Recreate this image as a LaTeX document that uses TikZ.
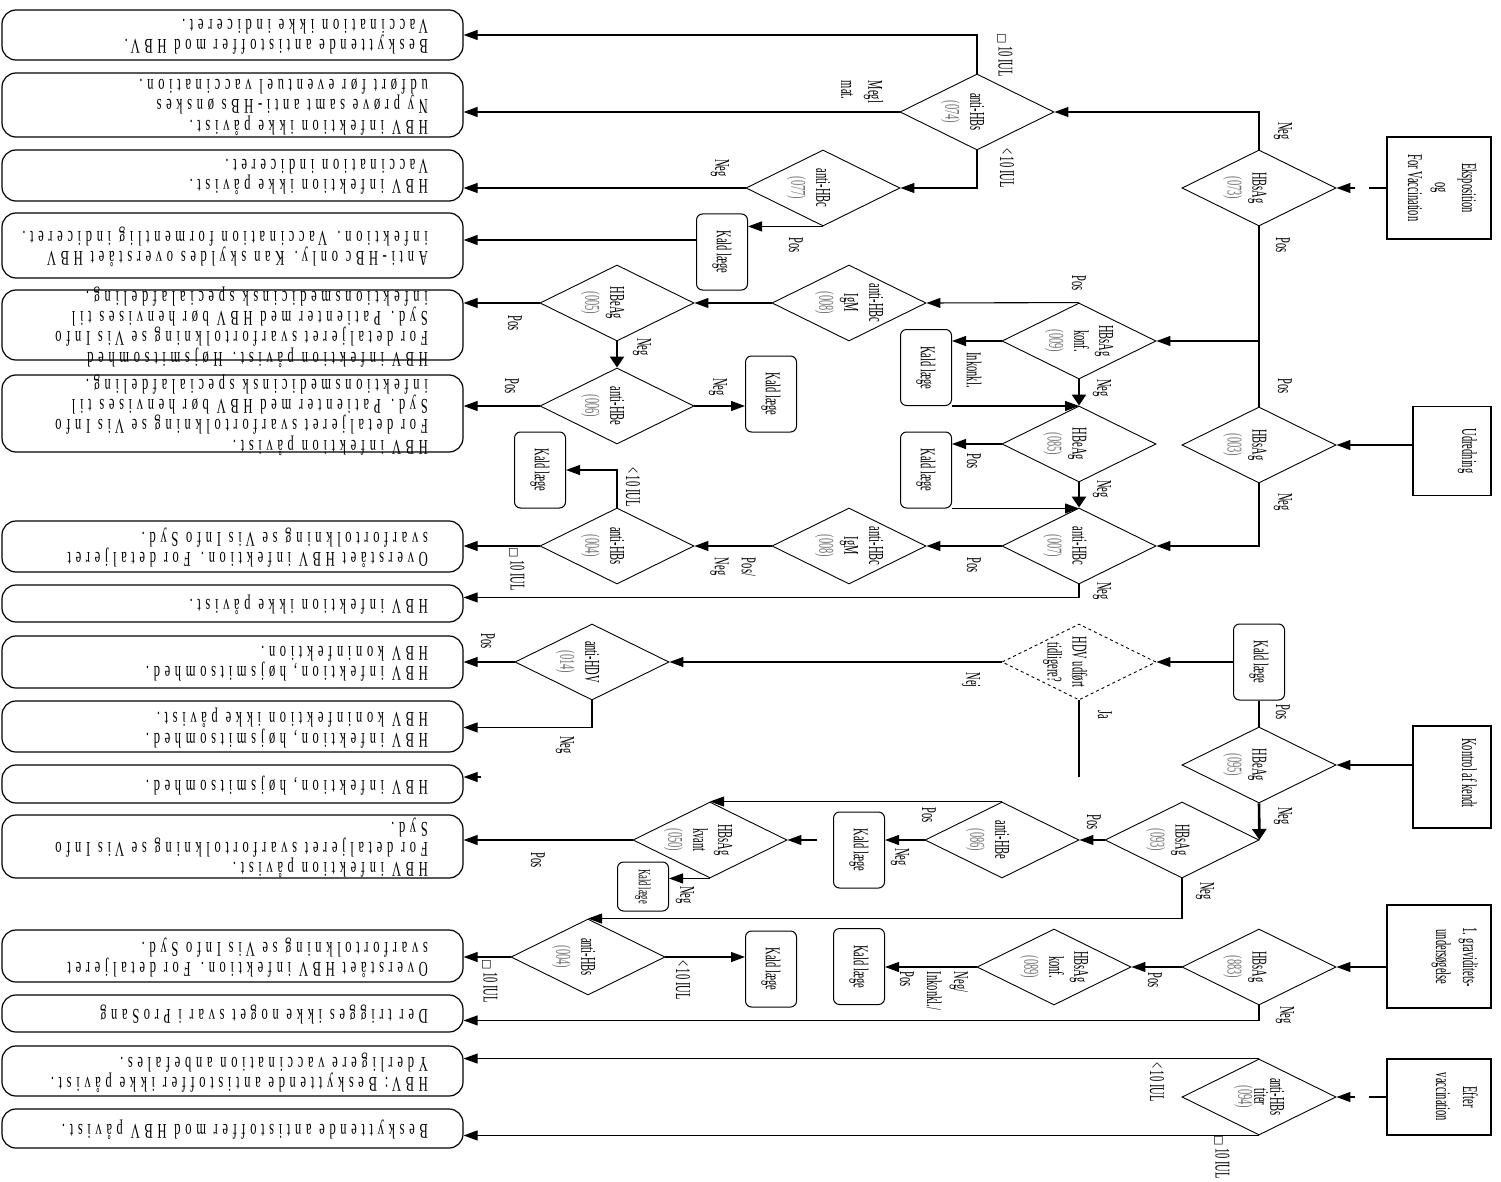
\documentclass[tikz,border=0pt]{standalone}
\usepackage{fontspec}
\usepackage{graphicx}
\usetikzlibrary{shapes.geometric,arrows.meta,calc}
\setmainfont{Liberation Serif}
\newfontfamily\dfont[FakeStretch=0.5]{Liberation Serif}
\newfontfamily\ofont[FakeStretch=0.6,LetterSpace=22]{Liberation Serif}
\newfontfamily\symf{DejaVu Sans}
\newcommand\numtxt[1]{\textcolor{black!55}{#1}}
\newcommand\boxge{{\symf\fontsize{11}{11}\selectfont □}}
\tikzset{
  arr/.style={line width=1.1pt,-{Triangle[length=14pt,width=10pt]}},
  tarr/.style={line width=2.6pt,-{Triangle[length=11pt,width=14pt]}},
  ln/.style={line width=1.1pt},
  dia/.style={diamond,draw,line width=0.9pt,minimum width=154pt,minimum height=76pt,inner sep=0pt},
  dtxt/.style={rotate=-90,align=center,font=\dfont\fontsize{21}{25}\selectfont,inner sep=0pt},
  lbl/.style={rotate=-90,align=left,font=\dfont\fontsize{21}{27}\selectfont,inner sep=0pt},
  kald/.style={draw,rounded corners=6pt,line width=1pt,minimum width=51pt,minimum height=76pt,inner sep=0pt,
    font=\dfont\fontsize{21}{22}\selectfont},
  startbox/.style={draw,line width=1.1pt,inner sep=0pt},
  obox/.style={draw,rounded corners=14pt,line width=1.2pt,minimum width=461pt,inner sep=0pt},
  otxt/.style={rotate=180,anchor=west,align=left,font=\ofont\fontsize{21}{14.5}\selectfont,inner sep=0pt},
}
\begin{document}
\begin{tikzpicture}[x=1pt,y=-1pt]
\useasboundingbox (0,0) rectangle (1501,1182);

% ---------- result boxes ----------
\node[obox,minimum height=50pt] (o1) at (232.5,35) {};
\node[otxt] at (428,37) {Beskyttende antistoffer mod HBV.\\Vaccination ikke indiceret.};
\node[obox,minimum height=64pt] (o2) at (232.5,105) {};
\node[otxt] at (428,107) {HBV infektion ikke påvist.\\Ny prøve samt anti-HBs ønskes\\udført før eventuel vaccination.};
\node[obox,minimum height=51pt] (o3) at (232.5,175.5) {};
\node[otxt] at (428,177) {HBV infektion ikke påvist.\\Vaccination indiceret.};
\node[obox,minimum height=65pt] (o4) at (232.5,245.5) {};
\node[otxt] at (428,247) {Anti-HBc only. Kan skyldes overstået HBV\\infektion. Vaccination formentlig indiceret.};
\node[obox,minimum height=70pt] (o5) at (232.5,325) {};
\node[otxt] at (428,327) {HBV infektion påvist. Højsmitsomhed\\For detaljeret svarfortolkning se Vis Info\\Syd. Patienter med HBV bør henvises til\\infektionsmedicinsk specialafdeling.};
\node[obox,minimum height=77pt] (o6) at (232.5,413.5) {};
\node[otxt] at (428,415) {HBV infektion påvist.\\For detaljeret svarfortolkning se Vis Info\\Syd. Patienter med HBV bør henvises til\\infektionsmedicinsk specialafdeling.};
\node[obox,minimum height=51pt] (o7) at (232.5,546.5) {};
\node[otxt] at (428,548) {Overstået HBV infektion. For detaljeret\\svarfortolkning se Vis Info Syd.};
\node[obox,minimum height=37pt] (o8) at (232.5,603.5) {};
\node[otxt] at (428,605) {HBV infektion ikke påvist.};
\node[obox,minimum height=52pt] (o9) at (232.5,662) {};
\node[otxt] at (428,664) {HBV infektion, højsmitsomhed.\\HBV koninfektion.};
\node[obox,minimum height=51pt] (o10) at (232.5,726.5) {};
\node[otxt] at (428,728) {HBV infektion, højsmitsomhed.\\HBV koninfektion ikke påvist.};
\node[obox,minimum height=38pt] (o11) at (232.5,784) {};
\node[otxt] at (428,786) {HBV infektion, højsmitsomhed.};
\node[obox,minimum height=63pt] (o12) at (232.5,846.5) {};
\node[otxt] at (428,848) {HBV infektion påvist.\\For detaljeret svarfortolkning se Vis Info\\Syd.};
\node[obox,minimum height=52pt] (o13) at (232.5,956) {};
\node[otxt] at (428,958) {Overstået HBV infektion. For detaljeret\\svarfortolkning se Vis Info Syd.};
\node[obox,minimum height=37pt] (o14) at (232.5,1013.5) {};
\node[otxt] at (428,1015) {Der trigges ikke noget svar i ProSang};
\node[obox,minimum height=50pt] (o15) at (232.5,1071) {};
\node[otxt] at (428,1073) {HBV: Beskyttende antistoffer ikke påvist.\\Yderligere vaccination anbefales.};
\node[obox,minimum height=39pt] (o16) at (232.5,1128.5) {};
\node[otxt] at (428,1130) {Beskyttende antistoffer mod HBV påvist.};

% ---------- start boxes ----------
\node[startbox,minimum width=104pt,minimum height=102pt] (sA) at (1439,188) {};
\node[lbl,align=center,anchor=north] at (1477,188) {Eksposition\\og\\For Vaccination};
\node[startbox,minimum width=78pt,minimum height=89pt] (sB) at (1452,451) {};
\node[lbl,anchor=north] at (1477,451) {Udredning};
\node[startbox,minimum width=78pt,minimum height=102pt] (sC) at (1452,777) {};
\node[lbl,anchor=north] at (1477,773) {Kontrol af kendt};
\node[startbox,minimum width=104pt,minimum height=103pt] (sD) at (1439,956.5) {};
\node[lbl,align=center,anchor=north] at (1478,957) {1. graviditets-\\undersøgelse};
\node[startbox,minimum width=104pt,minimum height=76pt] (sE) at (1439,1097) {};
\node[lbl,align=center,anchor=north] at (1478,1097) {Efter\\vaccination};

% ---------- decisions ----------
\node[dia] (d073) at (1259,188) {};
\node[dtxt] at (d073) {\strut\\HBsAg\\\numtxt{(073)}};
\node[dia] (d074) at (977,112) {};
\node[dtxt] at (d074) {\strut\\anti-HBs\\\numtxt{(074)}};
\node[dia] (d077) at (823,188) {};
\node[dtxt] at (d077) {\strut\\anti-HBc\\\numtxt{(077)}};
\node[dia] (d003) at (1259,445) {};
\node[dtxt] at (d003) {\strut\\HBsAg\\\numtxt{(003)}};
\node[dia] (d009) at (1079,341) {};
\node[dtxt] at (d009) {HBsAg\\konf.\\\numtxt{(009)}};
\node[dia] (d008a) at (849,303) {};
\node[dtxt] at (d008a) {anti-HBc\\IgM\\\numtxt{(008)}};
\node[dia] (d005) at (617,303) {};
\node[dtxt] at (d005) {\strut\\HBeAg\\\numtxt{(005)}};
\node[dia] (d006) at (617,406) {};
\node[dtxt] at (d006) {\strut\\anti-HBe\\\numtxt{(006)}};
\node[dia] (d085) at (1079,444) {};
\node[dtxt] at (d085) {\strut\\HBeAg\\\numtxt{(085)}};
\node[dia] (d007) at (1079,546) {};
\node[dtxt] at (d007) {\strut\\anti-HBc\\\numtxt{(007)}};
\node[dia] (d008b) at (849,546) {};
\node[dtxt] at (d008b) {anti-HBc\\IgM\\\numtxt{(008)}};
\node[dia] (d004a) at (617,546) {};
\node[dtxt] at (d004a) {\strut\\anti-HBs\\\numtxt{(004)}};
\node[dia,dashed] (hdv) at (1079,662) {};
\node[dtxt] at (hdv) {\strut\\HDV udført\\tidligere?};
\node[dia] (d014) at (592,662) {};
\node[dtxt] at (d014) {\strut\\anti-HDV\\\numtxt{(014)}};
\node[dia] (d095) at (1259,765) {};
\node[dtxt] at (d095) {\strut\\HBeAg\\\numtxt{(095)}};
\node[dia] (d093) at (1182,840) {};
\node[dtxt] at (d093) {\strut\\HBsAg\\\numtxt{(093)}};
\node[dia] (d086) at (1002,840) {};
\node[dtxt] at (d086) {\strut\\anti-HBe\\\numtxt{(086)}};
\node[dia] (d050) at (710,840) {};
\node[dtxt] at ([xshift=-12pt]d050.center) {HBsAg\\kvant\\\numtxt{(050)}};
\node[dia] (d883) at (1259,967) {};
\node[dtxt] at (d883) {\strut\\HBsAg\\\numtxt{(883)}};
\node[dia] (d089) at (1054,967) {};
\node[dtxt] at (d089) {HBsAg\\konf.\\\numtxt{(089)}};
\node[dia] (d004b) at (588,957) {};
\node[dtxt] at (d004b) {\strut\\anti-HBs\\\numtxt{(004)}};
\node[dia] (d094) at (1259,1097) {};
\node[dtxt,font=\dfont\fontsize{21}{16}\selectfont] at (d094) {anti-HBs\\titer\\\numtxt{(094)}};

% ---------- call-doctor boxes ----------
\node[kald] (k077) at (722,252) {\rotatebox{-90}{Kald læge}};
\node[kald] (k009) at (926,367.5) {\rotatebox{-90}{Kald læge}};
\node[kald] (k006) at (771,394) {\rotatebox{-90}{Kald læge}};
\node[kald] (k085) at (926,470) {\rotatebox{-90}{Kald læge}};
\node[kald] (k004a) at (540,470) {\rotatebox{-90}{Kald læge}};
\node[kald] (k095) at (1259,662) {\rotatebox{-90}{Kald læge}};
\node[kald] (k086) at (859,850) {\rotatebox{-90}{Kald læge}};
\node[kald,minimum height=49pt,font=\dfont\fontsize{17}{18}\selectfont] (k050) at (643,886.5) {\rotatebox{-90}{Kald læge}};
\node[kald] (k004b) at (771,969) {\rotatebox{-90}{Kald læge}};
\node[kald] (k089) at (859,966.5) {\rotatebox{-90}{Kald læge}};

% ---------- connectors: exposure / vaccination ----------
\coordinate (gA1) at ([xshift=-17pt]sA.west);
\coordinate (gA2) at ([xshift=-31pt]sA.west);
\draw[ln] (sA.west) -- (gA1);
\draw[arr] (gA2) -- (d073.east);
\draw[arr] (d073.north) |- (d074.east);
\draw[ln] (d073.south) -- (d003.north);
\draw[arr] (d003.north |- d009.east) -- (d009.east);
\draw[arr] (d074.north) |- (o1.east);
\draw[arr] (d074.west) -- (o2.east |- d074.west);
\draw[arr] (d074.south) |- (d077.east);
\draw[arr] (d077.west) -- (o3.east |- d077.west);
\draw[arr] (d077.south) -- (d077.south -| k077.east);
\coordinate (c4) at ([yshift=12pt]k077.west);
\draw[arr] (c4) -- (o4.east |- c4);

% ---------- connectors: investigation ----------
\draw[arr] (sB.west |- d003.east) -- (d003.east);
\draw[arr] (d003.south) |- (d007.east);
\draw[arr] (d009.north) -- (d008a.east);
\draw[arr] (d009.west) -- (d009.west -| k009.east);
\draw[arr] (k009.south east) -- (k009.south east -| d085.north);
\draw[tarr] (d009.south) -- (d085.north);
\draw[arr] (d008a.west) -- (d005.east);
\draw[tarr] (d005.south) -- (d006.north);
\draw[arr] (d005.west) -- (o5.east |- d005.west);
\draw[arr] (d006.west) -- (o6.east |- d006.west);
\draw[arr] (d006.east) -- (d006.east -| k006.west);
\draw[arr] (d085.west) -- (d085.west -| k085.east);
\draw[arr] (k085.south east) -- (k085.south east -| d007.north);
\draw[tarr] (d085.south) -- (d007.north);
\draw[arr] (d007.west) -- (d008b.east);
\draw[arr] (d008b.west) -- (d004a.east);
\draw[arr] (d004a.north) |- (k004a.east);
\draw[arr] (d004a.west) -- (o7.east |- d004a.west);
\coordinate (c8) at ([yshift=-13pt]d007.south);
\draw[arr] (d007.south) -- (c8) -- (o8.east |- c8);

% ---------- connectors: known carrier ----------
\draw[arr] (sC.west |- d095.east) -- (d095.east);
\draw[ln] (d095.north) -- (k095.south);
\draw[arr] (k095.west) -- (hdv.east);
\draw[arr] (hdv.west) -- (d014.east);
\coordinate (jaend) at ([yshift=-77pt]hdv.south);
\draw[ln] (hdv.south) -- (jaend);
\draw[arr] (d014.west) -- (o9.east |- d014.west);
\coordinate (c10) at ([yshift=-27pt]d014.south);
\draw[arr] (d014.south) -- (c10) -- (o10.east |- c10);
\coordinate (c11) at (481,777);
\draw[arr] (c11) -- (o11.east |- c11);
\draw[tarr] (d095.south) -- (d093.east);
\draw[arr] (d093.west) -- (d086.east);
\draw[arr] (d086.west) -- (d086.west -| k086.east);
\draw[arr] (d086.north) -- (d050.north);
\coordinate (c50) at (817,840);
\draw[arr] (c50) -- (d050.east);
\draw[arr] (d050.south) -- (d050.south -| k050.east);
\draw[arr] (d050.west) -- (o12.east |- d050.west);
\draw[arr] (d093.south) |- (d004b.north);
\draw[arr] (d004b.east) -- (d004b.east -| k004b.west);
\draw[arr] (d004b.west) -- (o13.east |- d004b.west);

% ---------- connectors: pregnancy ----------
\draw[arr] (sD.west |- d883.east) -- (d883.east);
\draw[arr] (d883.west) -- (d089.east);
\draw[arr] (d089.west) -- (d089.west -| k089.east);
\coordinate (c14) at ([yshift=-15pt]d883.south);
\draw[arr] (d883.south) -- (c14) -- (o14.east |- c14);

% ---------- connectors: after vaccination ----------
\coordinate (gE1) at ([xshift=-17pt]sE.west);
\coordinate (gE2) at ([xshift=-31pt]sE.west);
\draw[ln] (sE.west) -- (gE1);
\draw[arr] (gE2) -- (d094.east);
\draw[arr] (d094.north) -- (o15.east |- d094.north);
\draw[arr] (d094.south) -- (o16.east |- d094.south);

% ---------- branch labels ----------
\node[lbl] at (1005,55) {\boxge{} 10 IUL};
\node[lbl] at (862,92) {Megl\\mat.};
\node[lbl] at (1007,168) {< 10 IUL};
\node[lbl] at (1283,131) {Neg};
\node[lbl] at (1283,245) {Pos};
\node[lbl] at (720,168) {Neg};
\node[lbl] at (796,245) {Pos};
\node[lbl] at (1079,283) {Pos};
\node[lbl] at (974,370) {Inkonkl.};
\node[lbl] at (1102,388) {Neg};
\node[lbl] at (974,461) {Pos};
\node[lbl] at (1102,489) {Neg};
\node[lbl] at (974,565) {Pos};
\node[lbl] at (1102,591) {Neg};
\node[lbl] at (1285,386) {Pos};
\node[lbl] at (1283,502) {Neg};
\node[lbl] at (515,323) {Pos};
\node[lbl] at (642,347) {Neg};
\node[lbl] at (512,386) {Pos};
\node[lbl] at (718,387) {Neg};
\node[lbl] at (633,487) {< 10 IUL};
\node[lbl] at (733,567) {Pos/\\Neg};
\node[lbl] at (517,569) {\boxge{} 10 IUL};
\node[lbl] at (1283,712) {Pos};
\node[lbl] at (1283,816) {Neg};
\node[lbl] at (971,680) {Nej};
\node[lbl] at (1105,715) {Ja};
\node[lbl] at (488,641) {Pos};
\node[lbl] at (565,745) {Neg};
\node[lbl] at (1094,822) {Pos};
\node[lbl] at (929,815) {Pos};
\node[lbl] at (900,857) {Neg};
\node[lbl] at (685,895) {Neg};
\node[lbl] at (538,860) {Pos};
\node[lbl] at (1205,891) {Neg};
\node[lbl] at (683,980) {< 10 IUL};
\node[lbl] at (490,981) {\boxge{} 10 IUL};
\node[lbl] at (1155,980) {Pos};
\node[lbl] at (934,991) {Neg/\\Inkonkl./\\Pos};
\node[lbl] at (1285,1015) {Neg};
\node[lbl] at (1157,1082) {< 10 IUL};
\node[lbl] at (1222,1157) {\boxge{} 10 IUL};
\end{tikzpicture}
\end{document}
